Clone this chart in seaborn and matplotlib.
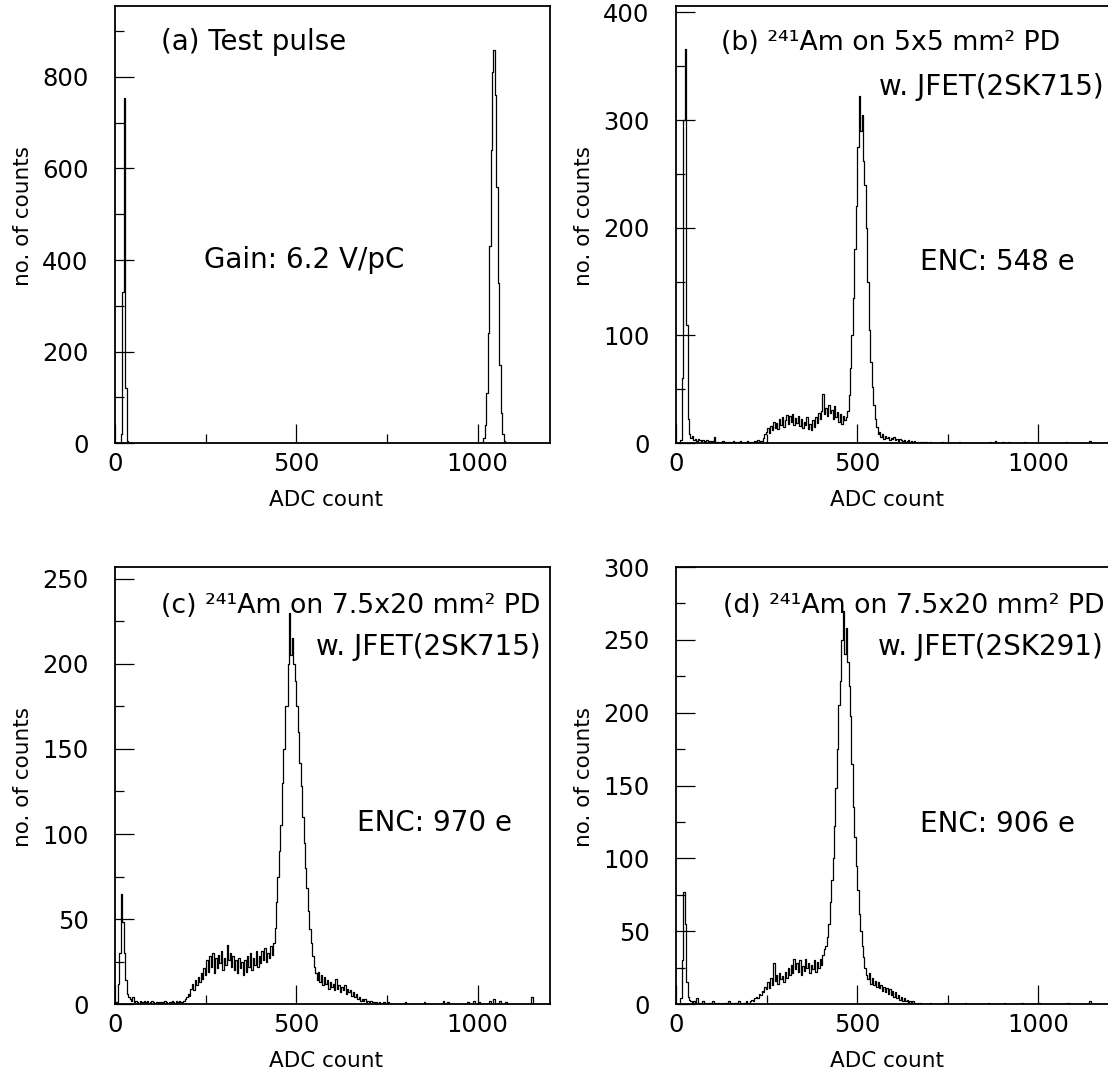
import numpy as np
import pandas as pd
import matplotlib
matplotlib.use("Agg")
import matplotlib.pyplot as plt
from matplotlib.ticker import MultipleLocator
import seaborn as sns

# histogram values, 4 ADC counts per bin
BIN = 4
N_BINS = 300  # 0 .. 1200 ADC

# (a) test pulse: pedestal spike and pulse peak
a_ped_x0 = 12
a_ped = [0, 20, 330, 755, 120, 4]
a_pulse_x0 = 1012
a_pulse = [3, 12, 40, 110, 240, 430, 640, 810, 858, 760, 560, 350, 170, 65, 20, 5, 1]

# (b) 241Am on 5x5 mm2 PD, 2SK715  (rows of 10 bins = 40 ADC counts)
b_x0 = 0
b_counts = [
    0, 0, 0, 3, 60, 300, 366, 110, 22, 8,            # 0
    5, 7, 3, 4, 2, 4, 3, 2, 3, 1,                    # 40
    2, 3, 1, 2, 1, 2, 6, 1, 0, 1,                    # 80
    0, 1, 2, 0, 1, 0, 1, 1, 0, 2,                    # 120
    0, 1, 0, 1, 2, 0, 1, 0, 1, 2,                    # 160
    1, 0, 1, 1, 2, 1, 3, 1, 2, 2,                    # 200
    5, 8, 10, 14, 9, 16, 12, 20, 14, 19,             # 240
    13, 22, 17, 24, 15, 21, 26, 18, 25, 20,          # 280
    27, 17, 23, 19, 25, 16, 22, 14, 20, 17,          # 320
    24, 13, 18, 12, 21, 15, 24, 19, 28, 22,          # 360
    30, 46, 27, 33, 25, 35, 28, 31, 22, 34,          # 400
    24, 29, 20, 27, 18, 25, 21, 24, 30, 45,          # 440
    70, 100, 135, 180, 220, 275, 322, 290, 305, 262, # 480
    240, 200, 150, 105, 75, 52, 35, 22, 15, 8,       # 520
    10, 6, 8, 4, 7, 5, 6, 3, 5, 4,                   # 560
    6, 3, 4, 2, 4, 3, 2, 3, 1, 2,                    # 600
    3, 1, 2, 1, 2, 0, 1, 0, 1, 0,                    # 640
    1, 0, 1, 0, 0, 1, 0, 0, 0, 0,                    # 680
]
b_tail_adc = [732, 780, 864, 880, 900, 916, 960, 1076, 1140]
b_tail_n = [1, 1, 1, 2, 1, 1, 1, 1, 2]

# (c) 241Am on 7.5x20 mm2 PD, 2SK715
c_x0 = 0
c_counts = [
    0, 1, 12, 30, 65, 48, 30, 14, 6, 4,              # 0
    3, 2, 4, 1, 2, 1, 0, 2, 1, 1,                    # 40
    2, 1, 2, 0, 1, 2, 1, 0, 1, 1,                    # 80
    0, 1, 1, 0, 2, 1, 0, 1, 1, 2,                    # 120
    1, 0, 2, 1, 2, 1, 1, 2, 3, 4,                    # 160
    6, 5, 9, 12, 8, 14, 11, 16, 13, 18,              # 200
    15, 21, 17, 26, 19, 28, 22, 30, 18, 27,          # 240
    21, 29, 24, 31, 20, 27, 23, 35, 26, 30,          # 280
    22, 28, 20, 26, 18, 27, 21, 25, 17, 26,          # 320
    19, 28, 22, 30, 20, 27, 23, 31, 22, 28,          # 360
    24, 31, 26, 33, 25, 30, 27, 34, 29, 36,          # 400
    45, 60, 75, 90, 105, 130, 150, 175, 175, 200,    # 440
    230, 205, 215, 200, 190, 175, 160, 142, 128, 110,  # 480
    95, 80, 68, 55, 44, 36, 28, 22, 18, 14,          # 520
    19, 13, 17, 11, 16, 12, 14, 9, 13, 10,           # 560
    12, 8, 15, 9, 11, 7, 10, 8, 11, 6,               # 600
    9, 7, 8, 5, 7, 4, 6, 3, 4, 2,                    # 640
    3, 2, 3, 1, 2, 1, 2, 1, 1, 0,                    # 680
    1, 0, 1, 0, 0, 1, 0, 0, 1, 0,                    # 720
]
c_tail_adc = [800, 852, 904, 916, 972, 988, 1004, 1032, 1044, 1060, 1076, 1148]
c_tail_n = [1, 1, 2, 1, 1, 2, 1, 2, 3, 2, 1, 4]

# (d) 241Am on 7.5x20 mm2 PD, 2SK291
d_x0 = 0
d_counts = [
    0, 0, 0, 4, 30, 77, 55, 15, 5, 3,                # 0
    2, 1, 2, 1, 4, 1, 0, 1, 2, 0,                    # 40
    1, 0, 1, 1, 0, 2, 0, 1, 0, 1,                    # 80
    0, 1, 0, 1, 1, 0, 2, 0, 1, 0,                    # 120
    1, 1, 0, 2, 1, 0, 1, 1, 2, 1,                    # 160
    1, 2, 3, 2, 4, 5, 4, 7, 6, 9,                    # 200
    8, 12, 10, 15, 11, 18, 13, 28, 16, 20,           # 240
    14, 21, 17, 19, 15, 22, 18, 25, 20, 27,          # 280
    21, 31, 24, 28, 22, 30, 20, 26, 23, 31,          # 320
    25, 28, 21, 27, 24, 30, 22, 29, 25, 31,          # 360
    27, 34, 38, 40, 46, 55, 70, 85, 100, 122,        # 400
    148, 175, 205, 222, 250, 270, 240, 258, 235, 218,  # 440
    198, 165, 135, 115, 95, 78, 62, 50, 40, 32,      # 480
    25, 20, 17, 21, 14, 18, 13, 16, 12, 15,          # 520
    11, 13, 9, 12, 8, 11, 7, 10, 6, 9,               # 560
    5, 8, 4, 6, 3, 5, 2, 4, 2, 3,                    # 600
    1, 2, 1, 2, 1, 0, 1, 0, 1, 0,                    # 640
]
d_tail_adc = [700, 740, 796, 860, 904, 952, 1000, 1080, 1140]
d_tail_n = [1, 1, 1, 1, 1, 1, 1, 1, 2]


def build(segments, tail_adc=(), tail_n=()):
    counts = np.zeros(N_BINS)
    for x0, vals in segments:
        i0 = x0 // BIN
        counts[i0:i0 + len(vals)] = vals
    for adc, n in zip(tail_adc, tail_n):
        counts[adc // BIN] = n
    return counts


centers = np.arange(N_BINS) * BIN + BIN / 2

panels = [
    dict(counts=build([(a_ped_x0, a_ped), (a_pulse_x0, a_pulse)]),
         ymax=955, major=200, minor=100,
         pos=[0.1038, 0.589, 0.3926, 0.4054]),
    dict(counts=build([(b_x0, b_counts)], b_tail_adc, b_tail_n),
         ymax=406, major=100, minor=50,
         pos=[0.6101, 0.589, 0.3926, 0.4054]),
    dict(counts=build([(c_x0, c_counts)], c_tail_adc, c_tail_n),
         ymax=257, major=50, minor=25,
         pos=[0.1038, 0.0686, 0.3926, 0.4054]),
    dict(counts=build([(d_x0, d_counts)], d_tail_adc, d_tail_n),
         ymax=300, major=50, minor=25,
         pos=[0.6101, 0.0686, 0.3926, 0.4054]),
]

sns.set_style("white")
plt.rcParams["font.family"] = ["DejaVu Sans"]
plt.rcParams["text.color"] = "black"
plt.rcParams["axes.labelcolor"] = "black"
plt.rcParams["xtick.color"] = "black"
plt.rcParams["ytick.color"] = "black"

fig = plt.figure(figsize=(11.08, 10.78), dpi=100)
axes = []
for p in panels:
    ax = fig.add_axes(p["pos"])
    df = pd.DataFrame({"adc": centers, "n": p["counts"]})
    sns.histplot(data=df, x="adc", weights="n", binwidth=BIN,
                 binrange=(0, N_BINS * BIN), element="step",
                 fill=False, color="black", linewidth=0.9, ax=ax)
    ax.set_xlim(0, 1200)
    ax.set_ylim(0, p["ymax"])
    ax.xaxis.set_major_locator(MultipleLocator(500))
    ax.xaxis.set_minor_locator(MultipleLocator(250))
    ax.yaxis.set_major_locator(MultipleLocator(p["major"]))
    ax.yaxis.set_minor_locator(MultipleLocator(p["minor"]))
    ax.tick_params(which="major", direction="in", length=13.5, width=0.9,
                   labelsize=17.5, colors="black", left=True, bottom=True,
                   top=False, right=False)
    ax.tick_params(which="minor", direction="in", length=6.8, width=0.9,
                   color="black", left=True, bottom=True,
                   top=False, right=False)
    ax.tick_params(axis="x", which="major", pad=6.5)
    ax.tick_params(axis="y", which="major", pad=19)
    for s in ax.spines.values():
        s.set_linewidth(1.3)
        s.set_color("black")
    ax.set_xlabel("ADC count", fontsize=15.5, va="center", color="black")
    ax.set_ylabel("no. of counts", fontsize=15.5, va="center", color="black")
    ax.xaxis.set_label_coords(0.485, -0.13)
    ax.yaxis.set_label_coords(-0.2115, 0.52)
    axes.append(ax)

fs = 20
fs_title = 19.3
ax_a, ax_b, ax_c, ax_d = axes
ax_a.text(0.106, 0.918, "(a) Test pulse", transform=ax_a.transAxes,
          fontsize=fs, ha="left", va="center")
ax_a.text(0.205, 0.419, "Gain: 6.2 V/pC", transform=ax_a.transAxes,
          fontsize=fs, ha="left", va="center")

ax_b.text(0.103, 0.915, "(b) \u00b2\u2074\u00b9Am on 5x5 mm\u00b2 PD",
          transform=ax_b.transAxes, fontsize=fs_title, ha="left", va="center")
ax_b.text(0.982, 0.815, "w. JFET(2SK715)", transform=ax_b.transAxes,
          fontsize=fs, ha="right", va="center")
ax_b.text(0.561, 0.414, "ENC: 548 e", transform=ax_b.transAxes,
          fontsize=fs, ha="left", va="center")

ax_c.text(0.979, 0.911, "(c) \u00b2\u2074\u00b9Am on 7.5x20 mm\u00b2 PD",
          transform=ax_c.transAxes, fontsize=fs_title, ha="right", va="center")
ax_c.text(0.979, 0.817, "w. JFET(2SK715)", transform=ax_c.transAxes,
          fontsize=fs, ha="right", va="center")
ax_c.text(0.556, 0.414, "ENC: 970 e", transform=ax_c.transAxes,
          fontsize=fs, ha="left", va="center")

ax_d.text(0.986, 0.911, "(d) \u00b2\u2074\u00b9Am on 7.5x20 mm\u00b2 PD",
          transform=ax_d.transAxes, fontsize=fs_title, ha="right", va="center")
ax_d.text(0.982, 0.817, "w. JFET(2SK291)", transform=ax_d.transAxes,
          fontsize=fs, ha="right", va="center")
ax_d.text(0.561, 0.412, "ENC: 906 e", transform=ax_d.transAxes,
          fontsize=fs, ha="left", va="center")

fig.savefig("out.png", dpi=100)
